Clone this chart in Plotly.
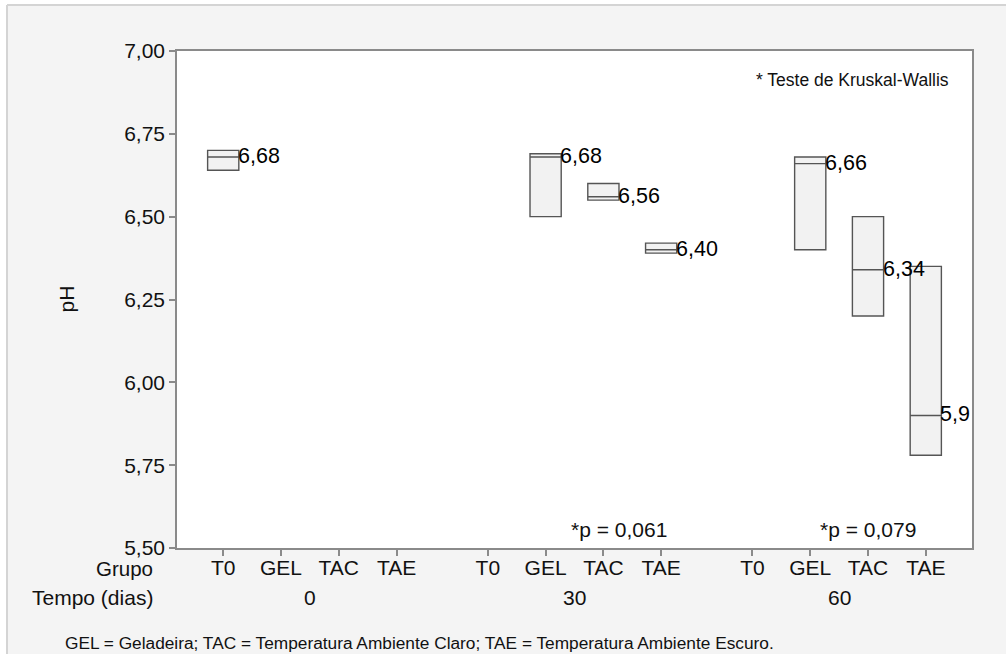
import plotly.graph_objects as go

# ---- data ----
tempos = ["0", "30", "60"]
grupos = ["T0", "GEL", "TAC", "TAE"]
# boxes present: (tempo index, grupo index)
box_tempo = [0, 1, 1, 1, 2, 2, 2]
box_grupo = [0, 1, 2, 3, 1, 2, 3]
q1 = [6.64, 6.50, 6.55, 6.39, 6.40, 6.20, 5.78]
median = [6.68, 6.68, 6.56, 6.40, 6.66, 6.34, 5.90]
q3 = [6.70, 6.69, 6.60, 6.42, 6.68, 6.50, 6.35]
median_labels = ["6,68", "6,68", "6,56", "6,40", "6,66", "6,34", "5,9"]
pvalue_tempo = [1, 2]
pvalue_text = ["*p = 0,061", "*p = 0,079"]
y_ticks = [5.50, 5.75, 6.00, 6.25, 6.50, 6.75, 7.00]
y_ticktext = ["5,50", "5,75", "6,00", "6,25", "6,50", "6,75", "7,00"]

# ---- layout constants ----
GROUP_STEP = 4.58
BOX_W = 0.54
FONT = "Arial, Liberation Sans, sans-serif"
TXT = "#111111"
AX = "#8a8a8a"

def xpos(t, g):
    return t * GROUP_STEP + g

box_x = [xpos(t, g) for t, g in zip(box_tempo, box_grupo)]
tick_x = [xpos(t, g) for t in range(len(tempos)) for g in range(len(grupos))]
tick_text = [g for t in range(len(tempos)) for g in grupos]

fig = go.Figure()
fig.add_trace(go.Box(
    x=box_x, q1=q1, median=median, q3=q3,
    lowerfence=q1, upperfence=q3,
    width=BOX_W, whiskerwidth=0,
    fillcolor="#f2f2f2",
    line=dict(color="#555555", width=1.4),
    boxpoints=False, showlegend=False, hoverinfo="skip",
))

annotations = []
for x, m, lab in zip(box_x, median, median_labels):
    annotations.append(dict(
        x=x + BOX_W / 2, y=m, xref="x", yref="y", text=lab, showarrow=False,
        xanchor="left", yanchor="middle", xshift=-3, yshift=1,
        font=dict(family=FONT, size=21.5, color="#000000"),
    ))

for t, txt in zip(pvalue_tempo, pvalue_text):
    xc = xpos(t, 2) + (0.27 if t == 1 else 0.0)
    annotations.append(dict(
        x=xc, y=0.037, xref="x", yref="paper", text=txt, showarrow=False,
        xanchor="center", yanchor="middle",
        font=dict(family=FONT, size=21, color=TXT),
    ))

annotations.append(dict(
    x=0.9736, y=0.9416, xref="paper", yref="paper", text="* Teste de Kruskal-Wallis",
    showarrow=False, xanchor="right", yanchor="middle",
    font=dict(family=FONT, size=17.5, color=TXT),
))
annotations.append(dict(
    x=-0.0277, y=-0.0422, xref="paper", yref="paper", text="Grupo",
    showarrow=False, xanchor="right", yanchor="middle",
    font=dict(family=FONT, size=20.5, color=TXT),
))
annotations.append(dict(
    x=-0.0277, y=-0.1006, xref="paper", yref="paper", text="Tempo (dias)",
    showarrow=False, xanchor="right", yanchor="middle",
    font=dict(family=FONT, size=21, color=TXT),
))
for t, lab in enumerate(tempos):
    annotations.append(dict(
        x=xpos(t, 1.5), y=-0.1006, xref="x", yref="paper", text=lab,
        showarrow=False, xanchor="center", yanchor="middle",
        font=dict(family=FONT, size=21, color=TXT),
    ))
annotations.append(dict(
    x=-0.1434, y=-0.191, xref="paper", yref="paper",
    text="GEL = Geladeira; TAC = Temperatura Ambiente Claro; TAE = Temperatura Ambiente Escuro.",
    showarrow=False, xanchor="left", yanchor="middle",
    font=dict(family=FONT, size=17.3, color=TXT),
))
annotations.append(dict(
    x=-0.1396, y=0.5, xref="paper", yref="paper", text="pH", textangle=-90,
    showarrow=False, xanchor="center", yanchor="middle",
    font=dict(family=FONT, size=21, color=TXT),
))

# frame outside the plot: white strips top/left, gray border lines
PW, PH = 795.0, 497.0
def px_x(p):
    return (p - 177) / PW
def px_y(p):
    return (548 - p) / PH

shapes = [
    dict(type="rect", xref="paper", yref="paper", x0=px_x(-5), x1=px_x(7), y0=px_y(700), y1=px_y(-5),
         fillcolor="white", line=dict(width=0), layer="above"),
    dict(type="rect", xref="paper", yref="paper", x0=px_x(-5), x1=px_x(1020), y0=px_y(5), y1=px_y(-5),
         fillcolor="white", line=dict(width=0), layer="above"),
    dict(type="line", xref="paper", yref="paper", x0=px_x(7), x1=px_x(1020), y0=px_y(5), y1=px_y(5),
         line=dict(color="#d4d4d4", width=2), layer="above"),
    dict(type="line", xref="paper", yref="paper", x0=px_x(7), x1=px_x(7), y0=px_y(5), y1=px_y(700),
         line=dict(color="#d4d4d4", width=2), layer="above"),
]

fig.update_layout(
    width=1006, height=654,
    margin=dict(l=177, r=34, t=51, b=106),
    paper_bgcolor="#f4f4f4", plot_bgcolor="white",
    font=dict(family=FONT, color=TXT),
    annotations=annotations, shapes=shapes,
    showlegend=False,
)
fig.update_xaxes(
    range=[-0.8, 2 * GROUP_STEP + 3 + 0.8],
    tickvals=tick_x, ticktext=tick_text,
    tickfont=dict(family=FONT, size=21, color=TXT),
    ticks="outside", ticklen=6, tickcolor=AX, tickwidth=1.5,
    ticklabelstandoff=-6,
    showline=True, linecolor=AX, linewidth=1.5, mirror=True,
    showgrid=False, zeroline=False,
)
fig.update_yaxes(
    range=[5.5, 7.0],
    tickvals=y_ticks, ticktext=y_ticktext,
    tickfont=dict(family=FONT, size=21, color=TXT),
    ticks="outside", ticklen=6, tickcolor=AX, tickwidth=1.5,
    showline=True, linecolor=AX, linewidth=1.5, mirror=True,
    showgrid=False, zeroline=False,
)

fig.write_html(
    "out.html",
    config={"displayModeBar": False},
    post_script="document.body.style.margin='0';document.body.style.overflow='hidden';",
)
